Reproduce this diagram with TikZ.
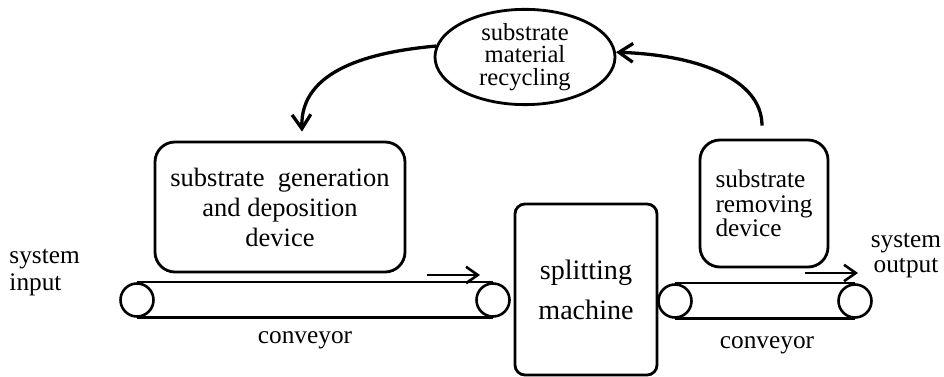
\documentclass[tikz,border=0pt]{standalone}
\usepackage{fontspec}
\setmainfont{Liberation Serif}
\usetikzlibrary{shapes.geometric,arrows.meta,positioning}

\begin{document}
\begin{tikzpicture}[x=0.015cm,y=-0.015cm,
        box/.style={draw, line width=1.2pt, rounded corners=0.3cm, inner sep=0pt, align=center},
        roller/.style={draw, circle, line width=1.1pt, minimum size=0.495cm, inner sep=0pt},
        belt/.style={line width=1.1pt},
        flow/.style={line width=1.4pt, -{Straight Barb[length=6pt,width=8pt]}},
        move/.style={line width=1.1pt, -{Straight Barb[length=5pt,width=7pt]}},
        lbl/.style={inner sep=0pt, align=center, font=\fontsize{10.8}{11.5}\selectfont}]
    \useasboundingbox (0,0) rectangle (944,377);

    % recycling loop on top
    \node[ellipse, draw, line width=1.2pt, minimum width=2.7cm, minimum height=1.35cm,
        inner sep=0pt, align=center, font=\fontsize{10.5}{9.6}\selectfont]
        (recyc) at (525,57) {substrate\\material\\recycling};

    % the three devices
    \node[box, minimum width=3.75cm, minimum height=1.95cm, font=\fontsize{11.3}{12.8}\selectfont]
        (gen) at (280,207) {substrate\ \ generation\\and deposition\\device};
    \node[box, align=left, minimum width=1.92cm, minimum height=1.905cm, font=\fontsize{10.8}{10.6}\selectfont]
        (rem) at (764,203.5) {substrate\\removing\\device};
    \node[box, rounded corners=0.15cm, minimum width=2.13cm, minimum height=2.565cm, font=\fontsize{12}{17}\selectfont]
        (split) at (586,289.5) {splitting\\machine};

    % conveyors
    \node[roller] (ra) at (137,300) {};
    \node[roller] (rb) at (493,300) {};
    \node[roller] (rc) at (675,301) {};
    \node[roller] (rd) at (855,301) {};
    \draw[belt] (ra.north) -- (rb.north) (ra.south) -- (rb.south);
    \draw[belt] (rc.north) -- (rd.north) (rc.south) -- (rd.south);

    \coordinate (ina) at (427,275);
    \coordinate (inb) at (480,275);
    \coordinate (outa) at (805,273);
    \coordinate (outb) at (858,273);
    \draw[move] (ina) -- (inb);
    \draw[move] (outa) -- (outb);

    \node[lbl] (conva) at (305,340) {conveyor};
    \node[lbl] (convb) at (767,345) {conveyor};
    \node[lbl, align=left, anchor=west] (sysin) at (9,273) {system\\input};
    \node[lbl, font=\fontsize{10.8}{10.7}\selectfont] (sysout) at (906,256) {system\\output};

    % material flow back and forth
    \draw[flow] (recyc.173) .. controls (370,52) and (300,70) .. ([shift={(22,-9)}]gen.north);
    \draw[flow] ([shift={(-2,-13)}]rem.north) .. controls (762,80) and (700,55) .. (recyc.3);
\end{tikzpicture}
\end{document}
